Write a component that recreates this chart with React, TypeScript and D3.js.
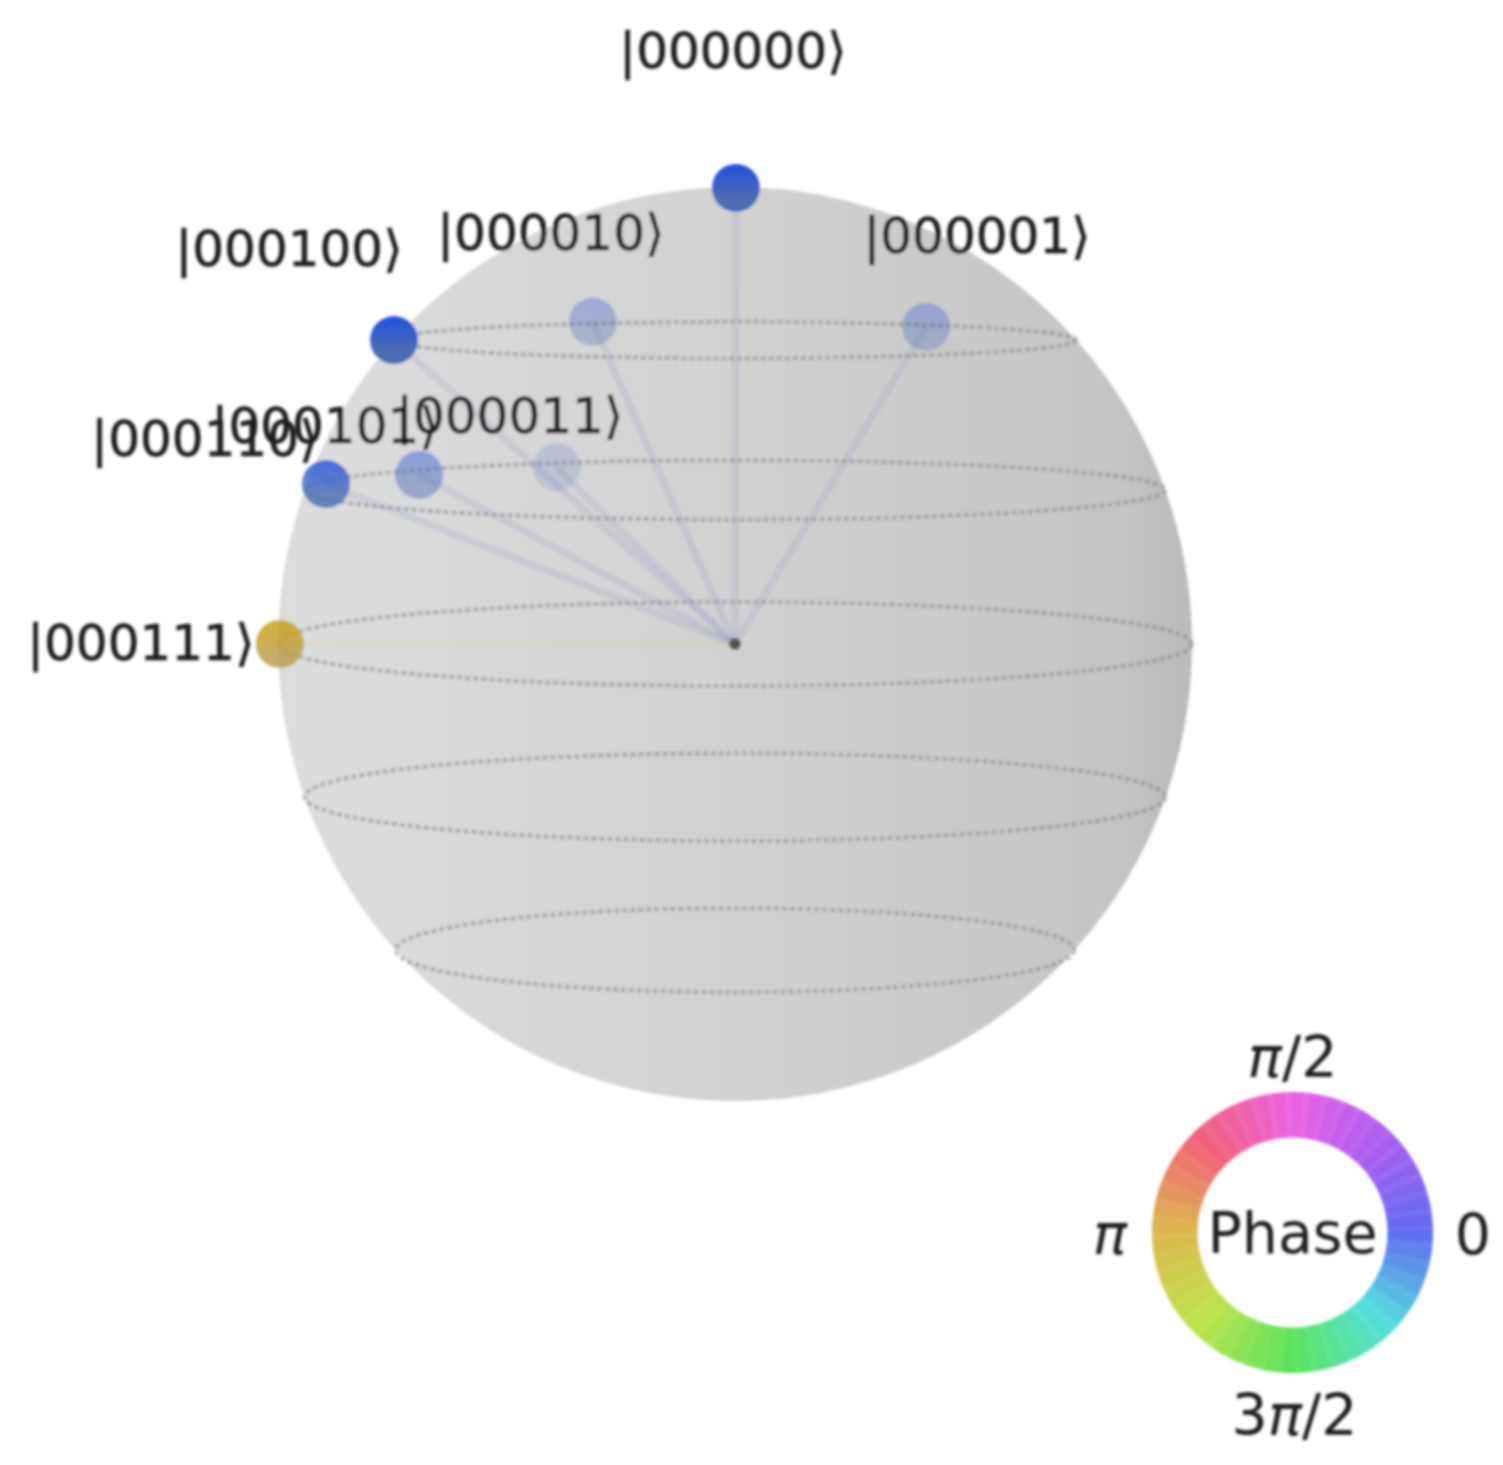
import React from "react";
import * as d3 from "d3";

// basis states, coordinates are on the unit sphere as seen in the picture
const stateLabels = ["000000", "000001", "000010", "000100", "000011", "000101", "000110", "000111"];
const stateX = [0.002, 0.418, -0.311, -0.746, -0.39, -0.691, -0.895, -0.996];
const stateY = [0.998, 0.694, 0.705, 0.665, 0.387, 0.37, 0.35, 0];
const stateAlpha = [1, 0.33, 0.33, 1, 0.17, 0.45, 0.8, 0.85];
const statePhase = [0, 0, 0, 0, 0, 0, 0, 180];

// latitude rings: height on the sphere and half height of the ellipse
const ringZ = [0.665, 0.337, 0, -0.335, -0.67];
const ringTilt = [0.04, 0.065, 0.092, 0.096, 0.092];

// phase wheel colours, degrees around the wheel
const phaseStops = [0, 45, 90, 135, 180, 225, 270, 315, 360];
const phaseColors = ["#4f5bf0", "#a04cf0", "#e850e0", "#f0506a", "#d8b038", "#b4e038", "#48e048", "#40dcd8", "#4f5bf0"];
const wheelSteps = d3.range(96);

const width = 1503;
const height = 1465;
const cx = 735;
const cy = 644;
const R = 457;

// label anchor relative to its point
const labelDx = [-3, 51, -42, -105, -47, -94, -121, -139];
const labelDy = [-138, -92, -90, -92, -52, -50, -46, -2];

const x = d3.scaleLinear().domain([-1, 1]).range([cx - R, cx + R]);
const y = d3.scaleLinear().domain([-1, 1]).range([cy + R, cy - R]);
const unit = d3.scaleLinear().domain([0, 1]).range([0, R]);
const phaseColor = d3
  .scaleLinear<string>()
  .domain(phaseStops)
  .range(phaseColors)
  .interpolate(d3.interpolateRgb);

const wheelX = 1292.5;
const wheelY = 1232.5;
const wheelArc = d3.arc<number>()
  .innerRadius(95)
  .outerRadius(140.5)
  .startAngle((d) => (d / wheelSteps.length) * 2 * Math.PI)
  .endAngle((d) => ((d + 1) / wheelSteps.length) * 2 * Math.PI + 0.004);

const font = "'DejaVu Sans', sans-serif";
const textColor = "#1c1c1c";

export default function App() {
  return (
    <svg width={width} height={height} style={{ position: "absolute", left: 0, top: 0, background: "#fff" }}>
      <defs>
        <filter id="soft" x="-5%" y="-5%" width="110%" height="110%">
          <feGaussianBlur stdDeviation="1.7" />
        </filter>
        <linearGradient id="ball" x1="0" x2="1" y1="0" y2="0">
          <stop offset="0" stopColor="#dcdddd" />
          <stop offset="0.5" stopColor="#d1d1d1" />
          <stop offset="0.92" stopColor="#c4c4c4" />
          <stop offset="1" stopColor="#bababa" />
        </linearGradient>
        <linearGradient id="dotBlue" x1="0" x2="0" y1="0" y2="1">
          <stop offset="0.15" stopColor="#2a55d8" />
          <stop offset="0.7" stopColor="#4a6cb4" />
        </linearGradient>
        <linearGradient id="dotGold" x1="0" x2="0" y1="0" y2="1">
          <stop offset="0.2" stopColor="#c8a020" />
          <stop offset="0.8" stopColor="#b8a050" />
        </linearGradient>
      </defs>
      <g filter="url(#soft)">
        <circle cx={cx} cy={cy} r={R} fill="url(#ball)" />

        {ringZ.map((z, i) => (
          <ellipse
            key={i}
            cx={x(0)}
            cy={y(z)}
            rx={unit(Math.sqrt(1 - z * z))}
            ry={unit(ringTilt[i])}
            fill="none"
            stroke="#808080"
            strokeOpacity={0.5}
            strokeWidth={4}
            strokeDasharray="5 3"
          />
        ))}

        {stateLabels.map((s, i) => (
          <line
            key={s}
            x1={x(0)}
            y1={y(0)}
            x2={x(stateX[i])}
            y2={y(stateY[i])}
            stroke={statePhase[i] === 0 ? "#8088c0" : "#d8c890"}
            strokeOpacity={0.16}
            strokeWidth={7}
          />
        ))}
        <circle cx={x(0)} cy={y(0)} r={6} fill="#555" />

        {stateLabels.map((s, i) => (
          <circle
            key={s}
            cx={x(stateX[i])}
            cy={y(stateY[i])}
            r={24}
            fill={statePhase[i] === 0 ? "url(#dotBlue)" : "url(#dotGold)"}
            fillOpacity={stateAlpha[i]}
          />
        ))}

        {stateLabels.map((s, i) => (
          <text
            key={s}
            x={x(stateX[i]) + labelDx[i]}
            y={y(stateY[i]) + labelDy[i]}
            dy="0.36em"
            textAnchor="middle"
            fontFamily={font}
            fontSize={50}
            fill={textColor}
            stroke={textColor}
            strokeWidth={0.6}
          >
            {`|${s}\u27E9`}
          </text>
        ))}

        <g transform={`translate(${wheelX},${wheelY})`}>
          {wheelSteps.map((d) => (
            <path
              key={d}
              d={wheelArc(d) ?? ""}
              fill={phaseColor(((90 - ((d + 0.5) / wheelSteps.length) * 360) % 360 + 360) % 360)}
              fillOpacity={d % 2 === 0 ? 0.9 : 0.86}
            />
          ))}
        </g>
        <g fontFamily={font} fontSize={57} fill={textColor} textAnchor="middle">
          <text x={wheelX} y={wheelY} dy="0.36em">Phase</text>
          <text x={wheelX} y={1077}>
            <tspan fontStyle="italic">{"\u03C0"}</tspan>/2
          </text>
          <text x={wheelX + 2} y={1435}>
            3<tspan fontStyle="italic">{"\u03C0"}</tspan>/2
          </text>
          <text x={1110} y={1254} fontStyle="italic">{"\u03C0"}</text>
          <text x={1473} y={1255}>0</text>
        </g>
      </g>
    </svg>
  );
}
